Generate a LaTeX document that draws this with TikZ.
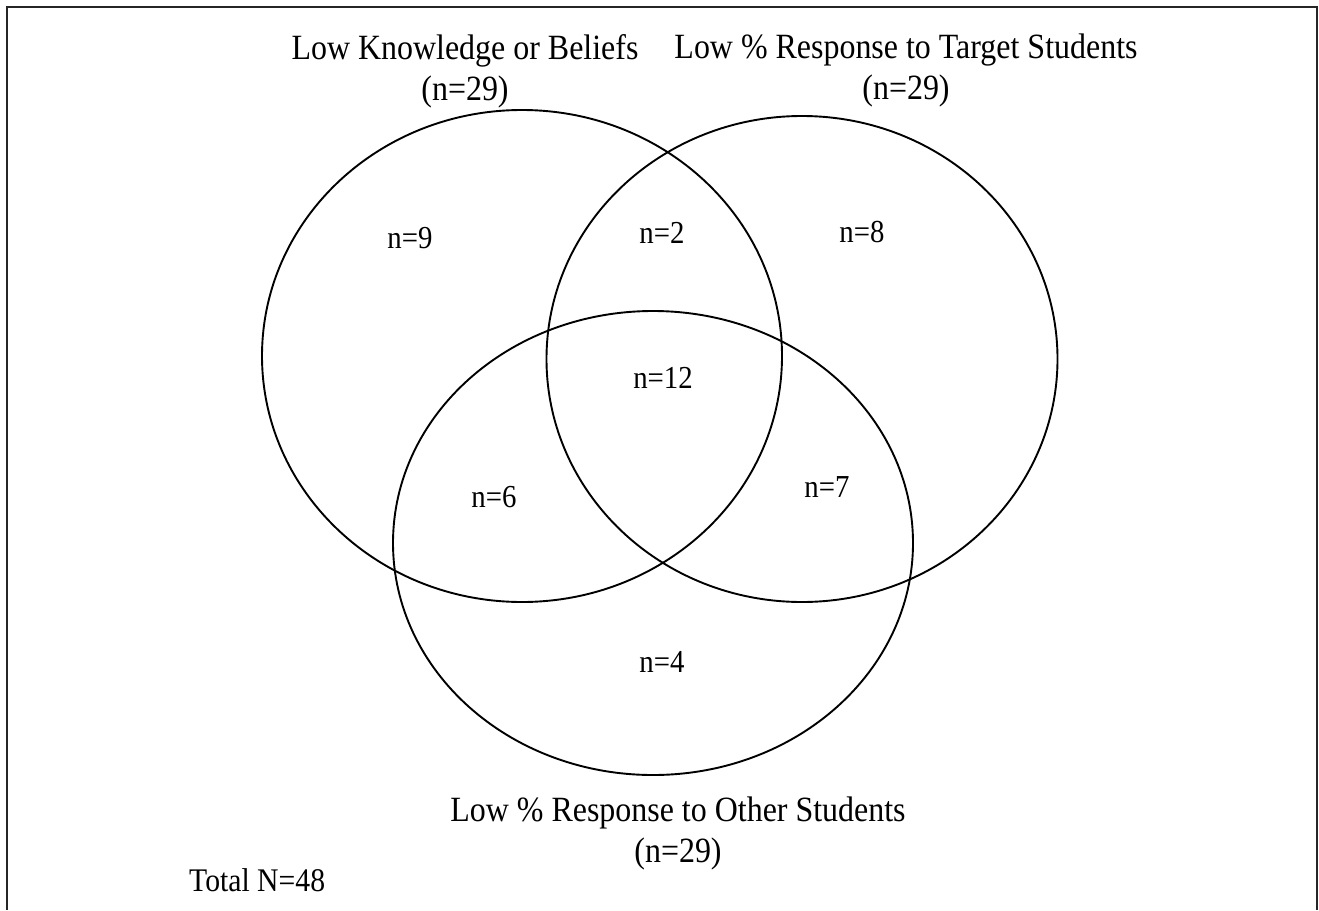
\documentclass[tikz,border=0pt]{standalone}
\usepackage{fontspec}
\setmainfont[FakeStretch=0.9]{Liberation Serif}
\usetikzlibrary{shapes.geometric}
\begin{document}
\begin{tikzpicture}[x=1pt,y=-1pt,
  set/.style={ellipse,draw=black,line width=1.9pt,inner sep=0pt},
  title/.style={align=center,inner sep=0pt,font=\fontsize{35.5}{41}\selectfont},
  count/.style={inner sep=0pt,font=\fontsize{32}{36}\selectfont}]
  \useasboundingbox (0,0) rectangle (1319,910);
  % open frame (top, left and right sides)
  \draw[line width=2pt,color=black!85] (6.5,910) -- (6.5,6.5) -- (1316.5,6.5) -- (1316.5,910);

  % the three sets
  \node[set,minimum width=520pt,minimum height=492pt] (know) at (522,356) {};
  \node[set,minimum width=511pt,minimum height=486pt] (target) at (802,359) {};
  \node[set,minimum width=520pt,minimum height=464pt] (other) at (653,543) {};

  % set titles
  \node[title] (tknow) at (465,71) {Low Knowledge or Beliefs\\(n=29)};
  \node[title] (ttarget) at (906,70) {Low \% Response to Target Students\\(n=29)};
  \node[title] (tother) at (678,833) {Low \% Response to Other Students\\(n=29)};

  % region counts
  \node[count] (r1) at (410,238) {n=9};
  \node[count] (r12) at (662,233) {n=2};
  \node[count] (r2) at (862,232) {n=8};
  \node[count] (r123) at (663,378) {n=12};
  \node[count] (r13) at (494,497) {n=6};
  \node[count] (r23) at (827,487) {n=7};
  \node[count] (r3) at (662,662) {n=4};

  \node[count,font=\fontsize{33}{36}\selectfont,anchor=west] (total) at (189,880) {Total N=48};
\end{tikzpicture}
\end{document}
